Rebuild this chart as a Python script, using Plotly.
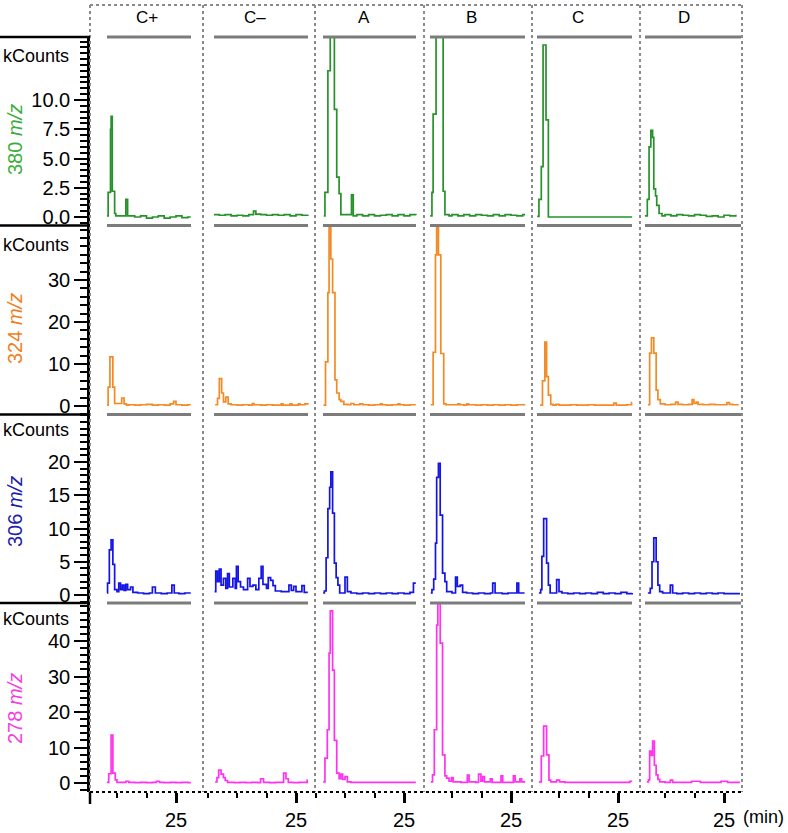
import plotly.graph_objects as go

# ---------------- data (retention time in min, intensity in kCounts) ----------------
samples = ["C+", "C\u2013", "A", "B", "C", "D"]
ions = ["380", "324", "306", "278"]

# 380 m/z
t380_Cp = [13.3, 13.5, 13.9, 14.0, 14.2, 14.6, 14.8, 16.5, 16.8, 18, 19, 20, 21, 22, 23, 24, 25, 26, 27, 27.5]
k380_Cp = [0.1, 2.1, 7.5, 8.6, 2.2, 0.3, 0.1, 1.5, 0.1, 0.0, 0.1, -0.1, 0.0, 0.1, -0.1, 0.0, 0.1, -0.05, 0.0, 0.0]
t380_Cm = [11.1, 12, 13, 14, 15, 16, 17, 17.8, 18.2, 19, 20, 21, 22, 23, 24, 25, 26, 27]
k380_Cm = [0.2, 0.15, 0.2, 0.1, 0.15, 0.1, 0.2, 0.5, 0.25, 0.2, 0.15, 0.2, 0.15, 0.2, 0.1, 0.2, 0.15, 0.2]
t380_A = [11.4, 11.6, 12.1, 12.5, 13.2, 13.6, 14.0, 14.3, 16.1, 16.4, 17, 18, 19, 20, 21, 22, 23, 24, 25, 26, 27]
k380_A = [0.1, 2.1, 12.5, 17.0, 9.2, 3.4, 2.0, 0.2, 1.9, 0.1, 0.2, 0.1, 0.2, 0.1, 0.15, 0.2, 0.1, 0.2, 0.1, 0.2, 0.15]
t380_B = [11.3, 11.6, 11.8, 12.3, 13.5, 13.8, 14.5, 15, 16, 17, 18, 19, 20, 21, 22, 23, 24, 25, 26, 27, 27.4]
k380_B = [0.1, 2.1, 8.8, 16.5, 2.2, 0.2, 0.1, 0.2, 0.1, 0.2, 0.1, 0.2, 0.15, 0.1, 0.2, 0.1, 0.2, 0.15, 0.1, 0.2, 0.2]
t380_C = [11.3, 11.6, 12.0, 12.3, 12.8, 13.2, 16, 20, 24, 27.4]
k380_C = [0.05, 1.5, 4.3, 14.7, 8.3, 0.0, 0.0, 0.0, 0.0, 0.0]
t380_D = [11.6, 12.0, 12.3, 12.6, 12.9, 13.1, 13.4, 13.6, 14.0, 14.5, 15, 16, 17, 18, 19, 20, 21, 22, 23, 24, 25, 26, 27]
k380_D = [0.1, 1.5, 6.0, 7.4, 6.8, 2.4, 1.8, 1.0, 0.3, 0.1, 0.2, 0.1, 0.2, 0.15, 0.1, 0.2, 0.15, 0.05, 0.1, 0.0, 0.15, 0.1, 0.2]

# 324 m/z
t324_Cp = [13.3, 13.5, 13.8, 14.3, 14.6, 15.8, 16.2, 16.6, 17, 18, 19, 20, 21, 22, 23, 24, 24.6, 25.0, 26, 27, 27.5]
k324_Cp = [0.2, 4.5, 11.7, 4.5, 0.6, 1.9, 0.5, 0.2, 0.3, 0.2, 0.3, 0.4, 0.2, 0.3, 0.2, 0.5, 1.1, 0.3, 0.2, 0.3, 0.3]
t324_Cm = [11.3, 11.7, 12.0, 12.4, 12.7, 13.1, 13.5, 14, 15, 16, 17, 17.6, 17.9, 19, 20, 21, 22.5, 22.8, 24, 24.3, 25.4, 25.7, 26.5, 27.0]
k324_Cm = [0.3, 1.8, 6.5, 3.1, 1.0, 2.1, 0.5, 0.3, 0.2, 0.3, 0.2, 0.6, 0.3, 0.2, 0.3, 0.2, 0.5, 0.2, 0.5, 0.2, 0.5, 0.3, 0.5, 0.3]
t324_A = [11.35, 11.7, 12.1, 12.3, 12.6, 12.9, 13.3, 13.6, 14.0, 14.3, 14.8, 15.5, 16, 16.5, 17.5, 18, 19, 20, 21, 21.3, 22, 23, 24, 24.3, 25, 26, 27]
k324_A = [0.2, 10.5, 27, 45, 35, 27, 6.2, 3.1, 1.5, 1.1, 0.4, 0.3, 0.6, 0.3, 0.5, 0.3, 0.2, 0.3, 0.5, 0.3, 0.2, 0.3, 0.5, 0.3, 0.2, 0.3, 0.3]
t324_B = [11.4, 11.8, 12.2, 12.4, 12.7, 13.1, 13.6, 14, 15, 16, 16.3, 17, 17.5, 17.8, 19, 20, 21, 22, 23, 24, 25, 26, 27, 27.4]
k324_B = [0.3, 12.8, 36, 45, 36, 12.5, 0.5, 0.3, 0.3, 0.5, 0.3, 0.2, 0.5, 0.3, 0.2, 0.3, 0.2, 0.3, 0.2, 0.3, 0.2, 0.3, 0.3, 0.3]
t324_C = [11.8, 12.2, 12.6, 12.9, 13.2, 13.6, 14, 14.5, 15, 16, 17, 18, 19, 20, 21, 22, 23, 24.3, 24.7, 25.5, 26.5, 27.3, 27.4]
k324_C = [0.2, 6.0, 15.2, 7.0, 2.6, 0.4, 0.2, 0.4, 0.2, 0.2, 0.3, 0.2, 0.2, 0.3, 0.2, 0.2, 0.2, 0.7, 0.2, 0.2, 0.3, 0.8, 0.8]
t324_D = [12.1, 12.4, 12.7, 13.1, 13.5, 13.8, 14.2, 15, 16, 16.8, 17.2, 18, 19, 19.6, 19.9, 20.3, 20.6, 21.5, 22.5, 23.5, 24.5, 25.5, 25.9, 26.5, 27.5]
k324_D = [0.3, 12.6, 16.2, 12.6, 3.8, 1.5, 0.5, 0.3, 0.4, 0.9, 0.4, 0.3, 0.4, 1.5, 0.6, 0.9, 0.4, 0.3, 0.4, 0.3, 0.3, 0.8, 0.4, 0.3, 0.3]

# 306 m/z
t306_Cp = [13.3, 13.4, 13.7, 14.0, 14.3, 14.6, 15.0, 15.3, 15.6, 15.9, 16.2, 16.5, 16.8, 17.3, 17.7, 18.5, 19.5, 20.5, 21.0, 21.5, 22.5, 23.5, 24.3, 24.7, 25.5, 26.5, 27.5]
k306_Cp = [0.3, 1.8, 6.8, 8.3, 4.6, 0.8, 0.5, 1.8, 0.8, 1.5, 0.7, 1.6, 0.8, 1.2, 0.4, 0.3, 0.2, 0.3, 1.2, 0.3, 0.2, 0.3, 1.5, 0.3, 0.2, 0.3, 0.3]
t306_Cm = [11.2, 11.4, 11.7, 12.0, 12.3, 12.7, 13.1, 13.4, 13.7, 14.3, 14.7, 14.9, 15.2, 15.6, 16.1, 16.8, 17.2, 17.7, 18.2, 18.7, 19.1, 19.4, 20.0, 20.3, 20.7, 21.1, 21.5, 22.5, 23.8, 24.2, 24.6, 25.0, 26.0, 26.4, 27.0]
k306_Cm = [0.5, 3.6, 2.0, 3.9, 1.5, 2.5, 1.0, 3.2, 1.2, 2.5, 1.0, 4.3, 2.0, 1.2, 0.8, 2.5, 1.3, 1.5, 0.8, 2.5, 4.3, 1.6, 1.0, 2.6, 2.2, 1.4, 0.6, 0.5, 1.5, 0.7, 1.3, 0.5, 1.4, 0.4, 0.4]
t306_A = [11.3, 11.5, 11.8, 12.1, 12.4, 12.6, 12.9, 13.2, 13.5, 13.8, 14.1, 15.0, 15.4, 16, 17, 18, 19, 20, 21, 22, 23, 24, 25, 26, 26.6, 27.0]
k306_A = [0.3, 0.6, 5.6, 13.0, 16.2, 18.5, 12.3, 4.8, 2.6, 1.5, 0.3, 2.7, 0.5, 0.3, 0.2, 0.3, 0.2, 0.3, 0.2, 0.3, 0.2, 0.3, 0.2, 0.4, 1.8, 1.8]
t306_B = [11.4, 11.6, 11.9, 12.2, 12.4, 12.7, 13.0, 13.4, 13.8, 14.1, 15.0, 15.6, 15.9, 16.4, 16.8, 17.5, 18.5, 19.5, 20.5, 21.5, 21.9, 22.3, 23.5, 24.5, 25.5, 26.0, 26.3, 27.3]
k306_B = [0.3, 0.8, 2.4, 7.8, 17.7, 19.8, 12.0, 3.3, 2.0, 0.5, 0.3, 2.7, 1.3, 1.5, 0.4, 0.3, 0.2, 0.3, 0.2, 0.3, 1.8, 0.3, 0.2, 0.3, 0.3, 1.8, 0.3, 0.3]
t306_C = [11.6, 11.9, 12.1, 12.4, 12.9, 13.2, 13.5, 14.6, 15.0, 15.5, 16.5, 17.5, 18.5, 19.5, 20.5, 21.5, 22.5, 23.5, 24.5, 25.5, 26.5, 27.4]
k306_C = [0.3, 0.8, 5.8, 11.5, 4.8, 1.5, 0.3, 2.3, 0.5, 0.3, 0.2, 0.3, 0.2, 0.3, 0.2, 0.4, 0.2, 0.3, 0.2, 0.4, 0.2, 0.3]
t306_D = [12.1, 12.5, 12.8, 13.1, 13.5, 13.8, 14.1, 14.6, 15.9, 16.3, 17, 18, 19, 20, 21, 22, 23, 24, 25, 26, 27, 27.7]
k306_D = [0.3, 1.0, 5.0, 8.6, 5.0, 1.5, 0.5, 0.3, 1.5, 0.3, 0.2, 0.3, 0.2, 0.3, 0.2, 0.3, 0.2, 0.3, 0.2, 0.2, 0.2, 0.2]

# 278 m/z
t278_Cp = [13.3, 13.6, 14.0, 14.3, 14.7, 15.0, 16.5, 17.0, 18, 19, 20, 21, 21.7, 22.2, 23, 24, 25, 26, 27, 27.5]
k278_Cp = [0.2, 2.6, 13.5, 2.8, 0.9, 0.2, 0.5, 0.2, 0.1, 0.2, 0.1, 0.2, 0.5, 0.2, 0.1, 0.2, 0.1, 0.2, 0.1, 0.1]
t278_Cm = [11.3, 11.6, 11.9, 12.3, 12.7, 13.0, 13.4, 14.5, 15.5, 16.5, 17.5, 18.5, 19.0, 19.5, 20.5, 21.5, 22.5, 22.9, 23.3, 23.7, 24.5, 25.5, 26.5, 26.9, 27.0]
k278_Cm = [0.3, 1.5, 3.6, 2.5, 1.5, 0.7, 0.2, 0.1, 0.2, 0.1, 0.2, 0.1, 1.2, 0.2, 0.1, 0.2, 0.2, 2.8, 1.2, 0.2, 0.1, 0.2, 0.2, 0.8, 0.8]
t278_A = [11.3, 11.6, 12.0, 12.3, 12.5, 12.9, 13.2, 13.6, 14.0, 14.3, 14.6, 15.0, 15.4, 16, 17, 18, 19, 20, 21, 22, 23, 24, 25, 26, 27]
k278_A = [0.3, 7.0, 15.0, 36.6, 48.5, 31.8, 12.0, 2.8, 1.2, 2.5, 1.0, 1.8, 0.3, 0.2, 0.2, 0.2, 0.2, 0.2, 0.2, 0.2, 0.2, 0.2, 0.2, 0.2, 0.2]
t278_B = [11.4, 11.7, 12.0, 12.4, 12.6, 13.0, 13.4, 13.8, 14.1, 14.5, 14.9, 15.2, 16.5, 17.6, 17.9, 19.0, 19.5, 19.9, 20.2, 20.5, 21.5, 21.8, 23.3, 23.6, 24.5, 25.4, 25.7, 26.5, 26.8, 27.4]
k278_B = [0.3, 2.3, 15.0, 44.5, 52, 39.4, 7.9, 2.0, 1.4, 0.5, 1.5, 0.3, 0.2, 2.2, 0.3, 0.2, 2.5, 0.5, 1.8, 0.3, 1.2, 0.2, 2.0, 0.2, 0.2, 2.0, 0.3, 1.2, 0.3, 0.3]
t278_C = [11.6, 12.0, 12.4, 12.9, 13.3, 13.6, 14.6, 15.1, 16, 17, 18, 19, 20, 21, 22, 23, 24, 25, 26, 27.0, 27.4]
k278_C = [0.3, 7.6, 16.0, 7.9, 0.8, 0.3, 0.8, 0.3, 0.2, 0.2, 0.2, 0.2, 0.2, 0.2, 0.2, 0.2, 0.2, 0.2, 0.2, 0.5, 0.5]
t278_D = [11.9, 12.2, 12.4, 12.7, 12.9, 13.2, 13.5, 13.8, 14.1, 15.0, 15.9, 16.3, 17.5, 18.5, 19.5, 20.5, 21.0, 22.0, 23.0, 24.5, 25.3, 25.6, 26.5, 27.7]
k278_D = [0.3, 0.9, 9.0, 7.8, 11.8, 5.0, 2.3, 1.0, 0.3, 0.2, 0.8, 0.2, 0.2, 0.2, 0.5, 0.5, 0.2, 0.2, 0.2, 0.5, 0.5, 0.2, 0.2, 0.2]

y_tickvals_380 = [0, 2.5, 5, 7.5, 10]
y_ticktext_380 = ["0.0", "2.5", "5.0", "7.5", "10.0"]
y_tickvals_324 = [0, 10, 20, 30]
y_tickvals_306 = [0, 5, 10, 15, 20]
y_tickvals_278 = [0, 10, 20, 30, 40]
x_tickvals = [25]
x_ticktext = ["25"]

series = [
    [(t380_Cp, k380_Cp), (t380_Cm, k380_Cm), (t380_A, k380_A), (t380_B, k380_B), (t380_C, k380_C), (t380_D, k380_D)],
    [(t324_Cp, k324_Cp), (t324_Cm, k324_Cm), (t324_A, k324_A), (t324_B, k324_B), (t324_C, k324_C), (t324_D, k324_D)],
    [(t306_Cp, k306_Cp), (t306_Cm, k306_Cm), (t306_A, k306_A), (t306_B, k306_B), (t306_C, k306_C), (t306_D, k306_D)],
    [(t278_Cp, k278_Cp), (t278_Cm, k278_Cm), (t278_A, k278_A), (t278_B, k278_B), (t278_C, k278_C), (t278_D, k278_D)],
]
y_ticks = [
    (y_tickvals_380, y_ticktext_380, 0.5),
    (y_tickvals_324, [str(v) for v in y_tickvals_324], 2),
    (y_tickvals_306, [str(v) for v in y_tickvals_306], 1),
    (y_tickvals_278, [str(v) for v in y_tickvals_278], 2),
]

# ---------------- styling / layout (pixels) ----------------
W, H = 788, 833
PL, PR, PT, PB = 90, 742, 37, 792
col_edges = [90, 203, 315, 424, 532, 640, 742]
row_edges = [37, 225.5, 414.5, 603, 792]
tick25_px = [176, 296, 404, 511, 618, 724]
PX_PER_MIN = 5.9
span_px = [(107, 191), (214, 308), (323, 416), (430, 525), (537, 632), (645, 741)]
zero_px = [217, 406, 595, 783]
px_per_k = [11.7, 4.2, 6.65, 3.55]
trace_colors = ["#26922a", "#f38a24", "#1414e6", "#ff33ee"]
label_colors = ["#3cad3c", "#ef7f1d", "#2020a8", "#f23fe0"]
label_y = [140, 329, 512, 709]
kcounts_y = [56, 245, 430, 619]
header_x = [147, 255, 364, 471, 578, 684]
FONT = "Liberation Sans, Arial, sans-serif"


def fx(x):
    return (x - PL) / (PR - PL)


def fy(y):
    return (PB - y) / (PB - PT)


fig = go.Figure()

for r in range(4):
    for c in range(6):
        t, k = series[r][c]
        xa = "x" if c == 0 else f"x{c+1}"
        ya = "y" if r == 0 else f"y{r+1}"
        fig.add_trace(go.Scatter(
            x=t, y=k, xaxis=xa, yaxis=ya, mode="lines",
            line=dict(color=trace_colors[r], width=1.7, shape="hv"),
            showlegend=False, hoverinfo="skip"))

layout = dict(
    width=W, height=H,
    margin=dict(l=PL, r=W - PR, t=PT, b=H - PB, pad=0, autoexpand=False),
    paper_bgcolor="white", plot_bgcolor="white",
    font=dict(family=FONT, size=18, color="black"),
    showlegend=False,
)

for c in range(6):
    L, R, P = col_edges[c], col_edges[c + 1], tick25_px[c]
    key = "xaxis" if c == 0 else f"xaxis{c+1}"
    layout[key] = dict(
        domain=[fx(L), fx(R)],
        range=[25 - (P - L) / PX_PER_MIN, 25 + (R - P) / PX_PER_MIN],
        anchor="y4", automargin=False,
        tickmode="array", tickvals=x_tickvals, ticktext=x_ticktext,
        ticks="outside", ticklen=10, tickwidth=2.5, tickcolor="black",
        minor=dict(dtick=5, tick0=0, ticks="outside", ticklen=5, tickwidth=2, tickcolor="black"),
        showgrid=False, zeroline=False, showline=False,
        tickfont=dict(size=20, family=FONT), fixedrange=True,
    )

for r in range(4):
    top, bot = row_edges[r], row_edges[r + 1]
    z, s = zero_px[r], px_per_k[r]
    tv, tt, mdt = y_ticks[r]
    key = "yaxis" if r == 0 else f"yaxis{r+1}"
    layout[key] = dict(
        domain=[fy(bot), fy(top)],
        range=[-(bot - z) / s, (z - top) / s],
        anchor="x", automargin=False,
        tickmode="array", tickvals=tv, ticktext=tt,
        ticks="outside", ticklen=13, tickwidth=2, tickcolor="black",
        minor=dict(dtick=mdt, tick0=0, ticks="outside", ticklen=7, tickwidth=1.6, tickcolor="black"),
        showline=True, linecolor="black", linewidth=2.5,
        showgrid=False, zeroline=False,
        tickfont=dict(size=20, family=FONT), fixedrange=True,
    )

shapes = []
# dotted grey column separators and top border
for i, xe in enumerate(col_edges):
    shapes.append(dict(type="line", xref="paper", yref="paper",
                       x0=fx(xe), x1=fx(xe), y0=fy(5), y1=fy(PB),
                       line=dict(color="#8a8a8a", width=2, dash="dot")))
shapes.append(dict(type="line", xref="paper", yref="paper",
                   x0=fx(PL), x1=fx(PR), y0=fy(5), y1=fy(5),
                   line=dict(color="#8a8a8a", width=2, dash="dot")))
# dotted black time axis
shapes.append(dict(type="line", xref="paper", yref="paper",
                   x0=fx(PL), x1=fx(PR), y0=fy(PB), y1=fy(PB),
                   line=dict(color="black", width=2, dash="dot")))
# black separators on the left of each row
for ye in row_edges[:4]:
    shapes.append(dict(type="line", xref="paper", yref="paper",
                       x0=fx(0), x1=fx(PL), y0=fy(ye), y1=fy(ye),
                       line=dict(color="black", width=2.5)))
# extension of the vertical axis below the time axis
shapes.append(dict(type="line", xref="paper", yref="paper",
                   x0=fx(PL), x1=fx(PL), y0=fy(PB), y1=fy(804),
                   line=dict(color="black", width=2.5)))
# grey panel bars
for ye in row_edges[:4]:
    for (g0, g1) in span_px:
        shapes.append(dict(type="line", xref="paper", yref="paper",
                           x0=fx(g0), x1=fx(g1), y0=fy(ye), y1=fy(ye),
                           line=dict(color="#7c7c7c", width=3)))
layout["shapes"] = shapes

ann = []
for c in range(6):
    ann.append(dict(text=samples[c], xref="paper", yref="paper", x=fx(header_x[c]), y=fy(18),
                    xanchor="center", yanchor="middle", showarrow=False,
                    font=dict(size=17, family=FONT, color="black")))
for r in range(4):
    ann.append(dict(text="kCounts", xref="paper", yref="paper", x=fx(1), y=fy(kcounts_y[r]),
                    xanchor="left", yanchor="middle", showarrow=False,
                    font=dict(size=18, family=FONT, color="black")))
    ann.append(dict(text=f"{ions[r]} <i>m/z</i>", xref="paper", yref="paper", x=fx(15), y=fy(label_y[r]),
                    xanchor="center", yanchor="middle", showarrow=False, textangle=-90,
                    font=dict(size=20, family=FONT, color=label_colors[r])))
ann.append(dict(text="(min)", xref="paper", yref="paper", x=fx(741), y=fy(817),
                xanchor="left", yanchor="middle", showarrow=False,
                font=dict(size=18, family=FONT, color="black")))
layout["annotations"] = ann

fig.update_layout(**layout)
fig.write_html("out.html", config={"displayModeBar": False},
               post_script="document.body.style.margin='0px';document.body.style.overflow='hidden';")
